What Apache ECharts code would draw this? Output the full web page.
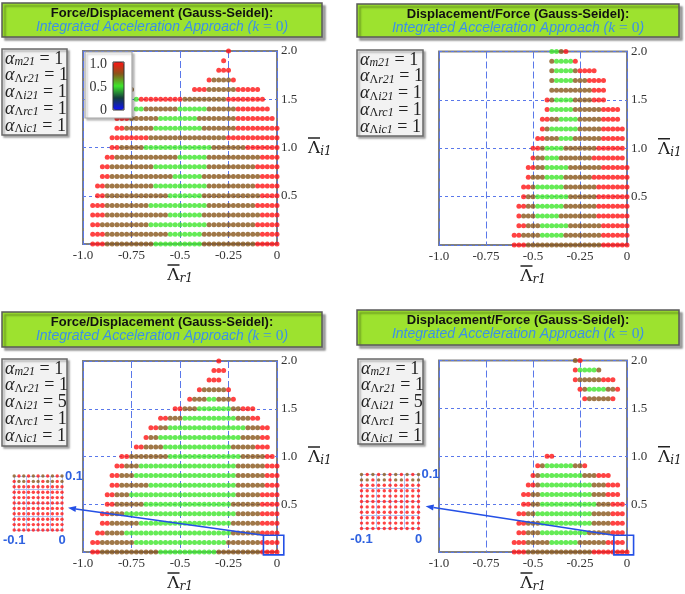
<!DOCTYPE html>
<html><head><meta charset="utf-8">
<script src="https://cdn.jsdelivr.net/npm/echarts@6/dist/echarts.min.js"></script>
<style>html,body{margin:0;padding:0;background:#fff}#c{width:685px;height:594px}</style>
</head><body><div id="c"></div><script>
// ---------------- data ----------------
const X_STEP = 0.025;           // spacing of the dot grid along Λr1
const INSET_STEP = 0.01;        // spacing inside the magnified insets
const xTicks = [-1.0, -0.75, -0.5, -0.25, 0];
const xTickLabels = ['-1.0', '-0.75', '-0.5', '-0.25', '0'];
const yTicks = [2.0, 1.5, 1.0, 0.5];
const yTickLabels = ['2.0', '1.5', '1.0', '0.5'];
const insetXTicks = [-0.1, 0];
const insetXLabels = ['-0.1', '0'];
const insetYTicks = [0.1];
const insetYLabels = ['0.1'];
const colorbarLabels = ['1.0', '0.5', '0'];
const LEVEL = { R: 1.0, B: 0.75, G: 0.5 };   // red / brown / green dots

const titlesTop = ['Force/Displacement (Gauss-Seidel):', 'Displacement/Force (Gauss-Seidel):',
                   'Force/Displacement (Gauss-Seidel):', 'Displacement/Force (Gauss-Seidel):'];
const paramNames = [['', 'm21'], ['Λ', 'r21'], ['Λ', 'i21'], ['Λ', 'rc1'], ['Λ', 'ic1']];
const paramValsTop = [1, 1, 1, 1, 1];
const paramValsBottom = [1, 1, 5, 1, 1];

// rows: [Λi1, first Λr1, runs of colours (letter + count, '.' = no dot)]
const rowsA = [
  [2.0, -0.25, 'R1'], [1.9, -0.275, 'R1'], [1.8, -0.3, 'R3'], [1.7, -0.35, 'R1 B4 R1'],
  [1.6, -0.75, 'B1 .12 R3 B6 R5'], [1.5, -0.725, 'G1 R9 B9 R8'], [1.4, -0.725, 'G2 B7 G6 B6 R7'],
  [1.3, -0.825, 'R3 B6 G8 B8 R8'], [1.2, -0.825, 'R2 B6 G10 B7 R9'], [1.1, -0.85, 'R8 B16 R11'],
  [1.0, -0.85, 'R2 B5 G14 B7 R7'], [0.9, -0.875, 'R2 B13 G6 B11 R4'], [0.8, -0.9, 'R2 B9 G11 B10 R5'],
  [0.7, -0.9, 'R2 B13 G6 B12 R4'], [0.6, -0.925, 'R2 B10 G11 B10 R5'], [0.5, -0.925, 'R2 B13 G7 B12 R4'],
  [0.4, -0.95, 'R3 B9 G12 B10 R5'], [0.3, -0.95, 'R3 B13 G7 B12 R4'], [0.2, -0.95, 'R2 B10 G12 B10 R5'],
  [0.1, -0.95, 'R3 B13 G7 B12 R4'], [0.0, -0.95, 'R3 B10 G10 B11 R5']
];
const rowsB = [
  [2.0, -0.4, 'G2 B1 R1'], [1.9, -0.4, 'B1 G4 R1'], [1.8, -0.4, 'B1 G4 B1 R4'], [1.7, -0.4, 'B1 G4 B3 R4'],
  [1.6, -0.4, 'B9 R3'], [1.5, -0.425, 'R1 B1 G4 B4 R3'], [1.4, -0.425, 'R1 G5 B6 R4'],
  [1.3, -0.45, 'R2 B2 G4 B5 R4'], [1.2, -0.45, 'R1 B1 G6 B5 R5'], [1.1, -0.475, 'R2 B3 G3 B6 R5'],
  [1.0, -0.5, 'R2 B1 G4 B7 R6'], [0.9, -0.5, 'R1 B2 G3 B7 R7'], [0.8, -0.525, 'R2 B2 G5 B7 R6'],
  [0.7, -0.525, 'R1 B3 G4 B6 R8'], [0.6, -0.55, 'R2 B1 G6 B7 R7'], [0.5, -0.55, 'R1 B2 G7 B6 R7'],
  [0.4, -0.575, 'R2 B2 G6 B7 R7'], [0.3, -0.575, 'R1 B3 G5 B8 R7'], [0.2, -0.575, 'R2 B3 G6 B7 R6'],
  [0.1, -0.6, 'R2 B4 G5 B8 R6'], [0.0, -0.6, 'R3 B16 R6']
];
const rowsC = [
  [2.0, -0.3, 'R1'], [1.9, -0.325, 'R3'], [1.8, -0.35, 'R3'], [1.7, -0.4, 'R1 B5 R1'],
  [1.6, -0.45, 'R1 B3 G2 B3 R1'], [1.5, -0.525, 'R2 B3 G7 B2 R3'], [1.4, -0.6, 'R2 B3 G11 B3 R2'],
  [1.3, -0.65, 'R2 B2 G16 B3 R2'], [1.2, -0.675, 'R1 B2 G17 B4 R2'], [1.1, -0.725, 'R2 B4 G14 B5 R3'],
  [1.0, -0.8, 'R2 B8 G15 B5 R2'], [0.9, -0.825, 'R2 B3 G20 B6 R3'], [0.8, -0.85, 'R2 B3 G21 B6 R3'],
  [0.7, -0.85, 'R2 B6 G18 B6 R3'], [0.6, -0.875, 'R2 B3 G22 B5 R4'], [0.5, -0.875, 'R2 B6 G18 B6 R4'],
  [0.4, -0.9, 'R2 B3 G23 B5 R4'], [0.3, -0.9, 'R2 B6 G19 B6 R4'], [0.2, -0.925, 'R2 B4 G22 B6 R4'],
  [0.1, -0.95, 'R2 B7 G19 B7 R4'], [0.0, -0.95, 'R2 B12 G12 B9 R4']
];
const rowsD = [
  [2.0, -0.275, 'B1 R1'], [1.9, -0.275, 'R1 G4 B1'], [1.8, -0.275, 'R1 B5 R3'],
  [1.7, -0.25, 'R1 B1 G4 B2 R1'], [1.6, -0.225, 'R1 B5 R1'],
  [1.0, -0.425, 'R2'], [0.9, -0.475, 'R1 B1 G6 B2 R1'], [0.8, -0.5, 'R1 B1 G9 B3 R3'],
  [0.7, -0.525, 'R2 B1 G11 B3 R3'], [0.6, -0.55, 'R2 B2 G11 B3 R3'], [0.5, -0.55, 'R2 B2 G12 B3 R3'],
  [0.4, -0.575, 'R2 B2 G12 B4 R3'], [0.3, -0.575, 'R2 B3 G11 B4 R3'], [0.2, -0.575, 'R2 B3 G10 B5 R3'],
  [0.1, -0.6, 'R3 B5 G6 B6 R4'], [0.0, -0.6, 'R3 B14 R8']
];
const insetRowsC = [
  [0.10, -0.1, 'B1 R1 B1 R1 B1 R1 B1 R1 B1 R1 B1'], [0.09, -0.1, 'R1 B2 R1 B2 R1 B2 R1 B1'],
  [0.08, -0.1, 'R11'], [0.07, -0.1, 'R11'], [0.06, -0.1, 'R11'], [0.05, -0.1, 'R11'],
  [0.04, -0.1, 'R11'], [0.03, -0.1, 'R11'], [0.02, -0.1, 'R11'], [0.01, -0.1, 'R11'], [0.00, -0.1, 'R11']
];
const insetRowsD = [
  [0.10, -0.1, 'B1 R1 B1 R1 B1 R1 B1 R1 B1 R1 B1'], [0.09, -0.1, 'B2 R1 B2 R1 B2 R1 B2'],
  [0.08, -0.1, 'R11'], [0.07, -0.1, 'R11'], [0.06, -0.1, 'R11'], [0.05, -0.1, 'R11'],
  [0.04, -0.1, 'R11'], [0.03, -0.1, 'R11'], [0.02, -0.1, 'R11'], [0.01, -0.1, 'R11'], [0.00, -0.1, 'R11']
];
// magnified corner (main-plot units) and arrow tip (inset units)
const zoomBoxX = [-0.07, 0.035];
const zoomBoxY = [-0.03, 0.175];
const arrowTip = [0.0125, 0.041];

// ---------------- helpers ----------------
function expandRows(rows, step) {
  const out = [];
  rows.forEach(([y, x0, runs]) => {
    let i = 0;
    runs.split(' ').forEach(tok => {
      const c = tok[0], n = parseInt(tok.slice(1), 10);
      for (let j = 0; j < n; j++, i++) {
        if (c !== '.') out.push([+(x0 + i * step).toFixed(4), y, LEVEL[c]]);
      }
    });
  });
  return out;
}
function lookup(ticks, labels) {
  return v => { const i = ticks.findIndex(t => Math.abs(t - v) < 1e-6); return i >= 0 ? labels[i] : ''; };
}

const grids = [
  { left: 83, top: 51, width: 194, height: 193 },
  { left: 439, top: 51.5, width: 195, height: 193.5 },
  { left: 83, top: 361, width: 194, height: 193 },
  { left: 439, top: 360.5, width: 195, height: 193 },
  { left: 6.5, top: 476, width: 55.5, height: 54 },
  { left: 361.5, top: 474.5, width: 57, height: 54 }
];

const nameRichAxis = {
  o: { width: 12, height: 1.5, backgroundColor: '#222', fontSize: 1, lineHeight: 2 },
  p: { width: 13, height: 1.5, fontSize: 1, lineHeight: 2 },
  L: { fontFamily: 'DejaVu Serif', fontSize: 17, color: '#222', lineHeight: 19 },
  s: { fontFamily: 'DejaVu Serif', fontStyle: 'italic', fontSize: 12, color: '#222', lineHeight: 8, verticalAlign: 'bottom' }
};
const labelFont = { fontFamily: 'Liberation Serif', fontSize: 13, color: '#333' };
const blueGrid = '#5a78ea';

const xAxes = [], yAxes = [], series = [];
[0, 1, 2, 3].forEach(i => {
  xAxes.push({
    gridIndex: i, type: 'value', min: -1, max: 0, interval: 0.25,
    axisLine: { show: false }, axisTick: { show: false },
    splitLine: { show: true, lineStyle: { color: blueGrid, type: [7, 3], width: 1 } },
    axisLabel: Object.assign({ formatter: lookup(xTicks, xTickLabels), margin: 5 }, labelFont),
    name: '{o| }{p| }\n{L|Λ}{s|r1}', nameLocation: 'middle', nameGap: 20,
    nameTextStyle: { rich: nameRichAxis }
  });
  yAxes.push({
    gridIndex: i, type: 'value', min: 0, max: 2, interval: 0.5, position: 'right',
    axisLine: { show: false }, axisTick: { show: false },
    splitLine: { show: true, lineStyle: { color: blueGrid, type: [3, 3], width: 1 } },
    axisLabel: Object.assign({ formatter: lookup(yTicks, yTickLabels), margin: 4 }, labelFont),
    name: '{o| }{p| }\n{L|Λ}{s|i1}', nameLocation: 'middle', nameGap: 31, nameRotate: 0,
    nameTextStyle: { rich: nameRichAxis, align: 'left' }
  });
});
[4, 5].forEach(i => {
  const lblBlue = { color: '#2f62e0', fontFamily: 'Liberation Sans', fontSize: 13, fontWeight: 'bold' };
  xAxes.push({
    gridIndex: i, type: 'value', min: -0.1, max: 0, interval: 0.025,
    axisLine: { show: false }, axisTick: { show: false },
    splitLine: { show: true, lineStyle: { color: '#b4c2f2', width: 1 } },
    axisLabel: Object.assign({ formatter: lookup(insetXTicks, insetXLabels), margin: 4 }, lblBlue)
  });
  yAxes.push({
    gridIndex: i, type: 'value', min: 0, max: 0.1, interval: 0.025, position: 'right',
    axisLine: { show: false }, axisTick: { show: false },
    splitLine: { show: true, lineStyle: { color: '#b4c2f2', width: 1 } },
    axisLabel: Object.assign({ formatter: lookup(insetYTicks, insetYLabels), margin: 3 }, lblBlue)
  });
});

[rowsA, rowsB, rowsC, rowsD].forEach((rows, i) => {
  series.push({ type: 'scatter', xAxisIndex: i, yAxisIndex: i, symbolSize: 5, clip: false,
    silent: true, z: 2, data: expandRows(rows, X_STEP) });
});
[insetRowsC, insetRowsD].forEach((rows, j) => {
  series.push({ type: 'scatter', xAxisIndex: 4 + j, yAxisIndex: 4 + j, symbolSize: 3.4, clip: false,
    silent: true, z: 2, data: expandRows(rows, INSET_STEP) });
});

// ---------------- decorations ----------------
const graphics = [];
const titleBoxes = [[2, 3, 320, 34], [357, 4, 322, 33], [2, 312, 320, 35], [357, 310, 322, 35]];
const titleRich = {
  t: { fontFamily: 'Liberation Sans', fontStyle: 'italic', fontSize: 14, fill: '#3b8fe8' },
  k: { fontFamily: 'Liberation Serif', fontStyle: 'italic', fontSize: 15.5, fill: '#3b8fe8' },
  m: { fontFamily: 'Liberation Serif', fontSize: 15.5, fill: '#3b8fe8' }
};
titleBoxes.forEach(([x, y, w, h], i) => {
  graphics.push({ type: 'rect', id: 'tb' + i, z: 10, shape: { x, y, width: w, height: h },
    style: { fill: '#9de22f', stroke: '#5a5a5a', lineWidth: 1.5,
      shadowBlur: 2, shadowOffsetX: 3, shadowOffsetY: 3, shadowColor: 'rgba(0,0,0,0.35)' } });
  graphics.push({ type: 'text', id: 'tt1' + i, z: 11, x: x + w / 2, y: y + 10,
    style: { text: titlesTop[i], fill: '#111', fontFamily: 'Liberation Sans', fontWeight: 'bold', fontSize: 13,
      align: 'center', verticalAlign: 'middle', textAlign: 'center', textVerticalAlign: 'middle' } });
  graphics.push({ type: 'text', id: 'tt2' + i, z: 11, x: x + w / 2, y: y + 24,
    style: { text: '{t|Integrated Acceleration Approach (}{k|k}{m| = 0}{t|)}', rich: titleRich,
      align: 'center', verticalAlign: 'middle', textAlign: 'center', textVerticalAlign: 'middle' } });
});
const paramBoxes = [[2, 49, 65, 86], [357, 50, 66, 86], [2, 359, 65, 87], [358, 359, 65, 85]];
const paramRich = {
  a: { fontFamily: 'Liberation Serif', fontStyle: 'italic', fontSize: 18, fill: '#222', lineHeight: 18 },
  u: { fontFamily: 'Liberation Serif', fontSize: 12, fill: '#222', lineHeight: 8, verticalAlign: 'bottom' },
  s: { fontFamily: 'Liberation Serif', fontStyle: 'italic', fontSize: 12, fill: '#222', lineHeight: 8, verticalAlign: 'bottom' },
  e: { fontFamily: 'Liberation Serif', fontSize: 18, fill: '#222', lineHeight: 18 }
};
paramBoxes.forEach(([x, y, w, h], i) => {
  graphics.push({ type: 'rect', id: 'pb' + i, z: 10, shape: { x, y, width: w, height: h },
    style: { fill: '#f2f2f2', stroke: '#6a6a6a', lineWidth: 1.5,
      shadowBlur: 2, shadowOffsetX: 2, shadowOffsetY: 2, shadowColor: 'rgba(0,0,0,0.3)' } });
  const vals = i < 2 ? paramValsTop : paramValsBottom;
  paramNames.forEach(([up, it], j) => {
    const t = '{a|α}' + (up ? '{u|' + up + '}' : '') + '{s|' + it + '}{e| = ' + vals[j] + '}';
    graphics.push({ type: 'text', id: 'pt' + i + '_' + j, z: 11, x: x + 3, y: y + 10 + j * 16.7,
      style: { text: t, rich: paramRich,
        align: 'left', verticalAlign: 'middle', textAlign: 'left', textVerticalAlign: 'middle' } });
  });
});
// colour-bar legend frame
graphics.push({ type: 'rect', id: 'lgbox', z: 3, shape: { x: 85, y: 52, width: 47, height: 66 },
  style: { fill: '#fff', stroke: '#a8a8a8', lineWidth: 1.2,
    shadowBlur: 2, shadowOffsetX: 2, shadowOffsetY: 2, shadowColor: 'rgba(0,0,0,0.25)' } });
graphics.push({ type: 'rect', id: 'lgbar', z: 6, shape: { x: 113, y: 62, width: 11, height: 48 },
  style: { fill: null, stroke: '#333', lineWidth: 1 } });
colorbarLabels.forEach((t, j) => {
  graphics.push({ type: 'text', id: 'lgt' + j, z: 6, x: 107, y: 64 + j * 23,
    style: { text: t, fill: '#333', fontFamily: 'Liberation Serif', fontSize: 14,
      align: 'right', verticalAlign: 'middle', textAlign: 'right', textVerticalAlign: 'middle' } });
});

const option = {
  animation: false,
  backgroundColor: '#fff',
  grid: grids.map((g, i) => Object.assign({ show: i < 4, borderColor: '#808080', borderWidth: i < 4 ? 2 : 0,
    backgroundColor: 'transparent', containLabel: false }, g)),
  xAxis: xAxes,
  yAxis: yAxes,
  visualMap: {
    type: 'continuous', min: 0, max: 1, dimension: 2, seriesIndex: [0, 1, 2, 3, 4, 5],
    inRange: { color: ['#1010ff', '#123c3c', '#3ee62c', '#88561a', '#ff1414'] },
    left: 113, top: 62, itemWidth: 11, itemHeight: 48, padding: 0, calculable: false,
    text: null, showLabel: false, hoverLink: false, z: 5
  },
  series,
  graphic: { elements: graphics }
};

const chart = echarts.init(document.getElementById('c'), null, { renderer: 'canvas', width: 685, height: 594 });
chart.setOption(option);

// zoom box + arrow placed through the axes' own scales
const extra = [];
[[2, 4], [3, 5]].forEach(([mainIdx, insetIdx], j) => {
  const tl = chart.convertToPixel({ xAxisIndex: mainIdx, yAxisIndex: mainIdx }, [zoomBoxX[0], zoomBoxY[1]]);
  const br = chart.convertToPixel({ xAxisIndex: mainIdx, yAxisIndex: mainIdx }, [zoomBoxX[1], zoomBoxY[0]]);
  const tip = chart.convertToPixel({ xAxisIndex: insetIdx, yAxisIndex: insetIdx }, arrowTip);
  extra.push({ type: 'rect', id: 'zb' + j, z: 12, shape: { x: tl[0], y: tl[1], width: br[0] - tl[0], height: br[1] - tl[1] },
    style: { fill: null, stroke: '#2450e6', lineWidth: 1.6 } });
  const dx = tip[0] - tl[0], dy = tip[1] - tl[1], len = Math.hypot(dx, dy);
  const ux = dx / len, uy = dy / len, hl = 8, hw = 3;
  const bx = tip[0] - ux * hl, by = tip[1] - uy * hl;
  extra.push({ type: 'line', id: 'ar' + j, z: 12, shape: { x1: tl[0], y1: tl[1], x2: bx, y2: by },
    style: { stroke: '#2450e6', lineWidth: 1.6 } });
  extra.push({ type: 'polygon', id: 'ah' + j, z: 12,
    shape: { points: [[tip[0], tip[1]], [bx - uy * hw, by + ux * hw], [bx + uy * hw, by - ux * hw]] },
    style: { fill: '#2450e6' } });
});
chart.setOption({ graphic: { elements: extra } });
</script></body></html>
